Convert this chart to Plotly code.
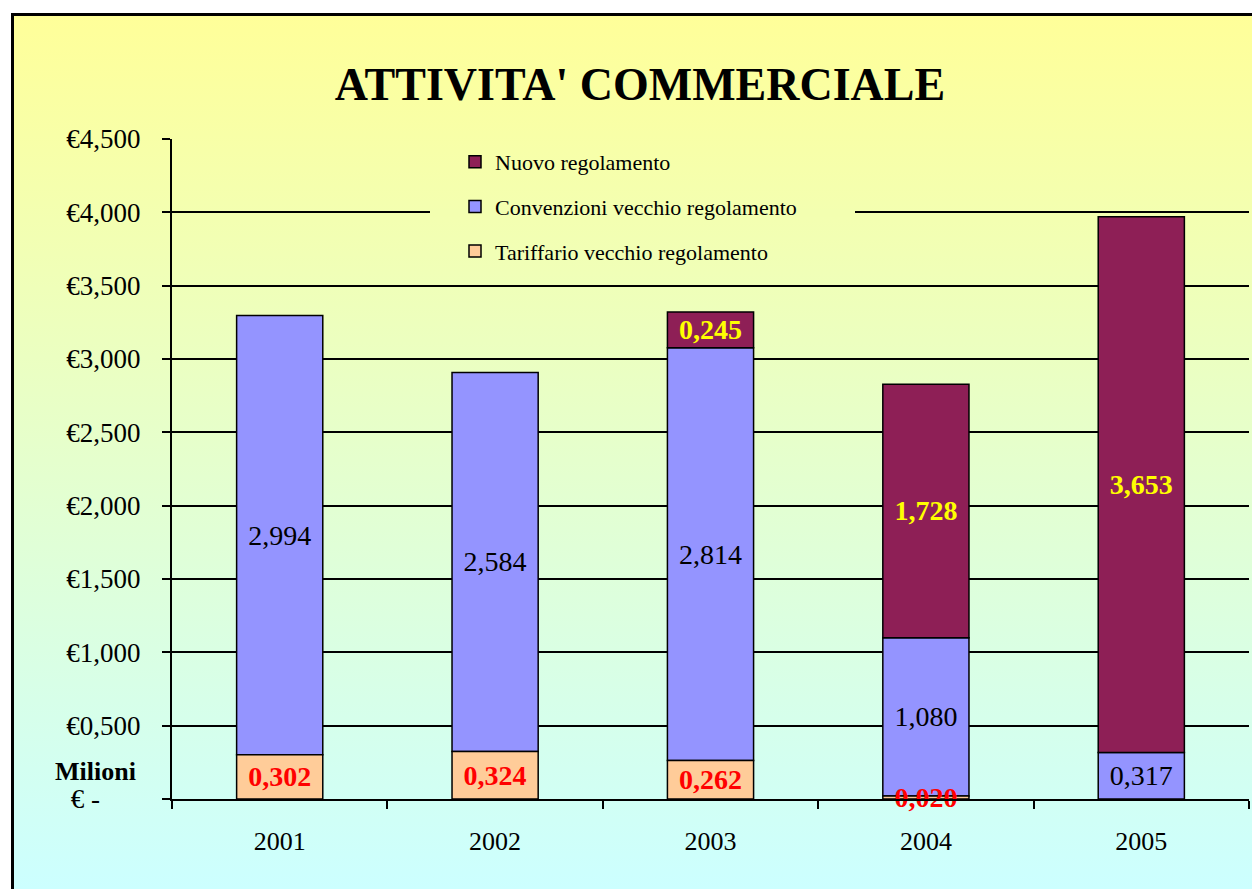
import base64
import plotly.graph_objects as go

# data (millions of euro)
years = ["2001", "2002", "2003", "2004", "2005"]
tariffario = [0.302, 0.324, 0.262, 0.020, None]
convenzioni = [2.994, 2.584, 2.814, 1.080, 0.317]
nuovo = [None, None, 0.245, 1.728, 3.653]

tick_vals = [0, 0.5, 1.0, 1.5, 2.0, 2.5, 3.0, 3.5, 4.0, 4.5]
tick_text = ["€\u00a0-" + "\u00a0" * 6, "€0,500", "€1,000", "€1,500", "€2,000",
             "€2,500", "€3,000", "€3,500", "€4,000", "€4,500"]

FONT = "Liberation Serif"
OFF = 8  # page body margin
W, H = 1260 - OFF, 889 - OFF
L, R, T, B = 172 - OFF, 11, 139 - OFF, 90
pw, ph = W - L - R, H - T - B


def lab(vals):
    return ["" if v is None else f"{v:.3f}".replace(".", ",") for v in vals]


# page pixel -> paper coords
def px_x(x):
    return (x - OFF - L) / pw


def px_y(y):
    return (H - B - (y - OFF)) / ph


# stacked by hand so the tariffario labels can be drawn last (on top)
base_conv = [t or 0 for t in tariffario]
base_nuovo = [b + c for b, c in zip(base_conv, convenzioni)]

fig = go.Figure()
fig.add_trace(go.Bar(
    x=years, y=convenzioni, base=base_conv, name="Convenzioni vecchio regolamento",
    marker=dict(color="#9494FF", line=dict(color="black", width=1.5)),
    text=lab(convenzioni), textposition="inside", insidetextanchor="middle",
    cliponaxis=False,
    textfont=dict(family=FONT, size=28, color="black"),
    legendgroup="c", legendrank=2,
))
fig.add_trace(go.Bar(
    x=years, y=nuovo, base=base_nuovo, name="Nuovo regolamento",
    marker=dict(color="#8E1F56", line=dict(color="black", width=1.5)),
    text=lab(nuovo), textposition="inside", insidetextanchor="middle",
    cliponaxis=False,
    textfont=dict(family=FONT, size=28, color="#FFFF00", weight="bold"),
    legendgroup="n", legendrank=1,
))
fig.add_trace(go.Bar(
    x=years, y=tariffario, name="Tariffario vecchio regolamento",
    marker=dict(color="#FFCC99", line=dict(color="black", width=1.5)),
    text=lab(tariffario), textposition="inside", insidetextanchor="middle",
    cliponaxis=False,
    textfont=dict(family=FONT, size=28, color="#FF0000", weight="bold"),
    legendgroup="t", legendrank=3,
))

# background gradient as an inline svg image
svg = ('<svg xmlns="http://www.w3.org/2000/svg" width="100" height="100" '
       'preserveAspectRatio="none"><defs><linearGradient id="g" x1="0" y1="0" '
       'x2="0" y2="1"><stop offset="0" stop-color="#FFFF99"/>'
       '<stop offset="1" stop-color="#CCFFFF"/></linearGradient></defs>'
       '<rect width="100" height="100" fill="url(#g)"/></svg>')
src = "data:image/svg+xml;base64," + base64.b64encode(svg.encode()).decode()
fig.add_layout_image(dict(
    source=src, xref="paper", yref="paper",
    x=px_x(12), y=px_y(14), sizex=(1260 - 12) / pw, sizey=(889 - 14) / ph,
    xanchor="left", yanchor="top", sizing="stretch", layer="below",
))

# legend box hides the gridline behind it
fig.add_shape(type="rect", xref="paper", yref="paper",
              x0=px_x(430), y0=px_y(217), x1=px_x(855), y1=px_y(209),
              fillcolor="#F3FFB0", line=dict(width=0), layer="above")

# outer frame
fig.add_shape(type="rect", xref="paper", yref="paper",
              x0=px_x(12.5), y0=px_y(14.5), x1=px_x(1290), y1=px_y(910),
              line=dict(color="black", width=3), layer="above")

fig.add_annotation(text="<b>Milioni</b>", xref="paper", yref="paper",
                   x=px_x(95), y=px_y(771), xanchor="center", yanchor="middle",
                   showarrow=False,
                   font=dict(family=FONT, size=26, color="black"))

fig.update_layout(
    width=W, height=H,
    margin=dict(l=L, r=R, t=T, b=B),
    barmode="overlay", bargap=0.6,
    paper_bgcolor="white", plot_bgcolor="rgba(0,0,0,0)",
    font=dict(family=FONT, color="black"),
    uniformtext=dict(minsize=28, mode="show"),
    title=dict(text="<b>ATTIVITA' COMMERCIALE</b>", x=(640 - OFF) / W,
               xanchor="center", xref="container",
               y=1 - (84 - OFF) / H, yanchor="middle", yref="container",
               font=dict(family=FONT, size=46, color="black")),
    legend=dict(x=px_x(455), y=px_y(141), xanchor="left", yanchor="top",
                traceorder="grouped", tracegroupgap=13,
                bgcolor="rgba(0,0,0,0)",
                font=dict(family=FONT, size=22, color="black")),
)
fig.update_yaxes(range=[0, 4.5], tickvals=tick_vals, ticktext=tick_text,
                 showgrid=True, gridcolor="black", gridwidth=2,
                 showline=True, linecolor="black", linewidth=2,
                 ticks="outside", ticklen=8, tickwidth=2, tickcolor="black",
                 ticklabelstandoff=16, zeroline=False,
                 tickfont=dict(family=FONT, size=27, color="black"))
fig.update_xaxes(showline=True, linecolor="black", linewidth=2,
                 ticks="outside", tickson="boundaries", ticklen=8, tickwidth=2,
                 tickcolor="black", ticklabelstandoff=18,
                 tickfont=dict(family=FONT, size=26, color="black"))

fig.write_html("out.html")
